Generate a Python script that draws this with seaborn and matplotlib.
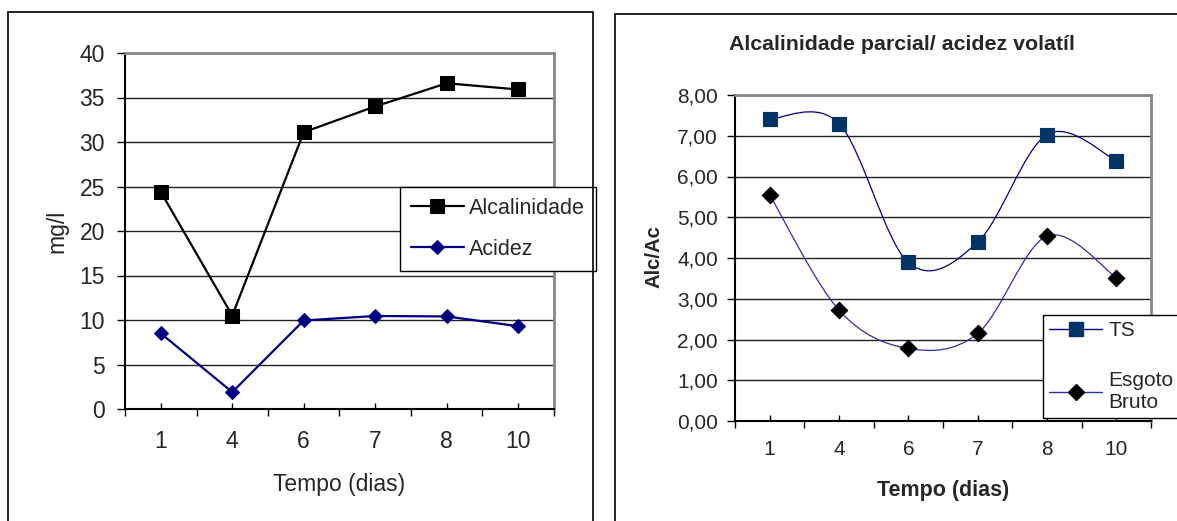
import numpy as np
import matplotlib
matplotlib.use("Agg")
import matplotlib.pyplot as plt
import seaborn as sns
from matplotlib.path import Path
from matplotlib.patches import PathPatch, Rectangle
from matplotlib.lines import Line2D
from matplotlib.ticker import FuncFormatter

# valores
dias = ["1", "4", "6", "7", "8", "10"]
alcalinidade = [24.4, 10.5, 31.1, 34.0, 36.6, 35.9]
acidez = [8.5, 1.9, 9.95, 10.45, 10.4, 9.3]
ts = [7.41, 7.30, 3.89, 4.39, 7.03, 6.39]
esgoto_bruto = [5.55, 2.72, 1.78, 2.15, 4.54, 3.52]

sns.set_style("white")
plt.rcParams["font.family"] = ["Liberation Sans", "DejaVu Sans"]

W, H = 1177, 521
fig = plt.figure(figsize=(W / 100, H / 100), dpi=100)


def px_rect(x0, y0, x1, y1):
    return [x0 / W, 1 - y1 / H, (x1 - x0) / W, (y1 - y0) / H]


def smooth_path(xs, ys, t=1 / 6):
    # curva suavizada tipo Excel (bezier pelos pontos)
    pts = np.column_stack([xs, ys]).astype(float)
    n = len(pts)
    verts = [pts[0]]
    codes = [Path.MOVETO]
    for i in range(n - 1):
        p0 = pts[max(i - 1, 0)]
        p1 = pts[i]
        p2 = pts[i + 1]
        p3 = pts[min(i + 2, n - 1)]
        verts += [p1 + (p2 - p0) * t, p2 - (p3 - p1) * t, p2]
        codes += [Path.CURVE4] * 3
    return Path(verts, codes)


def style_axes(ax, fs, xpad, ypad):
    pos = np.arange(len(dias))
    ax.set_xlim(-0.5, len(dias) - 0.5)
    ax.set_xticks(np.arange(-0.5, len(dias)), labels=[])
    ax.set_xticks(pos, labels=dias, minor=True)
    ax.tick_params(axis="x", which="major", direction="out", length=4.8, width=1,
                   color="black", bottom=True)
    ax.tick_params(axis="x", which="minor", direction="in", length=4, width=1,
                   color="black", labelsize=fs, pad=xpad, bottom=True)
    ax.tick_params(axis="y", direction="out", length=5.8, width=1, color="black",
                   labelsize=fs, pad=ypad, left=True)
    ax.yaxis.grid(True, color="#222222", lw=1)
    ax.set_axisbelow(True)
    for s in ["left", "bottom"]:
        ax.spines[s].set_color("black")
        ax.spines[s].set_linewidth(1.5)
    for s in ["top", "right"]:
        ax.spines[s].set_color("#888888")
        ax.spines[s].set_linewidth(2)


pos = np.arange(len(dias))

# ---- grafico 1: mg/l ----
ax1 = fig.add_axes(px_rect(125, 53, 554, 409))
sns.lineplot(x=pos, y=alcalinidade, ax=ax1, color="black", lw=1.6, marker="s",
             markersize=10, markeredgecolor="black", label="Alcalinidade")
sns.lineplot(x=pos, y=acidez, ax=ax1, color="#000080", lw=1.6, marker="D",
             markersize=7.5, markeredgecolor="#000080", label="Acidez")
ax1.set_ylim(0, 40)
ax1.set_yticks(np.arange(0, 41, 5))
style_axes(ax1, 16.5, 15, 8.6)
ax1.set_xlabel("Tempo (dias)", fontsize=16.5)
ax1.xaxis.set_label_coords(0.5, (409 - 491) / 356)
ax1.xaxis.label.set_va("baseline")
ax1.set_ylabel("mg/l", fontsize=16.5)
ax1.yaxis.set_label_coords((57 - 125) / 429, 0.5)
ax1.yaxis.label.set_va("center")
leg1 = ax1.legend(loc="upper left", bbox_to_anchor=(400 / W, 1 - 187 / H),
                  bbox_transform=fig.transFigure, fontsize=15.5, frameon=True,
                  fancybox=False, edgecolor="black", framealpha=1, borderpad=0.5,
                  labelspacing=0.93, handlelength=2.45, handletextpad=0.25,
                  borderaxespad=0)
leg1.get_frame().set_linewidth(1)

# ---- grafico 2: Alc/Ac ----
ax2 = fig.add_axes(px_rect(735, 95, 1151, 421))
ts_color = "#000080"
eb_color = "#2e2ea8"
ax2.add_patch(PathPatch(smooth_path(pos, ts), facecolor="none", edgecolor=ts_color,
                        lw=0.9, zorder=2))
ax2.add_patch(PathPatch(smooth_path(pos, esgoto_bruto), facecolor="none",
                        edgecolor=eb_color, lw=0.9, zorder=2))
sns.scatterplot(x=pos, y=ts, ax=ax2, marker="s", s=10.3 ** 2, color="#003366",
                edgecolor="#003366", zorder=3)
sns.scatterplot(x=pos, y=esgoto_bruto, ax=ax2, marker="D", s=8.5 ** 2, color="black",
                edgecolor="black", zorder=3)
ax2.set_ylim(0, 8)
ax2.set_yticks(np.arange(0, 9, 1))
ax2.yaxis.set_major_formatter(FuncFormatter(lambda v, _: f"{v:.2f}".replace(".", ",")))
style_axes(ax2, 15, 14, 6.5)
ax2.set_xlabel("Tempo (dias)", fontsize=15.5, fontweight="bold")
ax2.xaxis.set_label_coords(0.5, (421 - 496) / 326)
ax2.xaxis.label.set_va("baseline")
ax2.set_ylabel("Alc/Ac", fontsize=14.6, fontweight="bold")
ax2.yaxis.set_label_coords((654 - 735) / 416, (421 - 256.5) / 326)
ax2.yaxis.label.set_va("center")

handles = [
    Line2D([], [], color=ts_color, lw=1, marker="s", markersize=10.3,
           markerfacecolor="#003366", markeredgecolor="#003366"),
    Line2D([], [], color=eb_color, lw=1, marker="D", markersize=8.5,
           markerfacecolor="black", markeredgecolor="black"),
]
leg2 = ax2.legend(handles, ["TS", "Esgoto\nBruto"], loc="upper left",
                  bbox_to_anchor=(1043 / W, 1 - 315 / H),
                  bbox_transform=fig.transFigure, fontsize=15, frameon=True,
                  fancybox=False, edgecolor="black", framealpha=1, borderpad=0.3,
                  labelspacing=1.48, handlelength=2.55, handletextpad=0.3,
                  borderaxespad=0)
leg2.get_frame().set_linewidth(1)

fig.text(901.5 / W, 1 - 50 / H, "Alcalinidade parcial/ acidez volatíl",
         ha="center", va="baseline", fontsize=15.4, fontweight="bold")

# molduras dos dois graficos
fig.add_artist(Rectangle((8 / W, -0.1), (593 - 8) / W, 1.1 - 12 / H,
                         transform=fig.transFigure, fill=False, ec="black", lw=1.2))
fig.add_artist(Rectangle((615 / W, -0.1), 0.6, 1.1 - 14 / H,
                         transform=fig.transFigure, fill=False, ec="black", lw=1.2))

fig.savefig("out.png", dpi=100)
